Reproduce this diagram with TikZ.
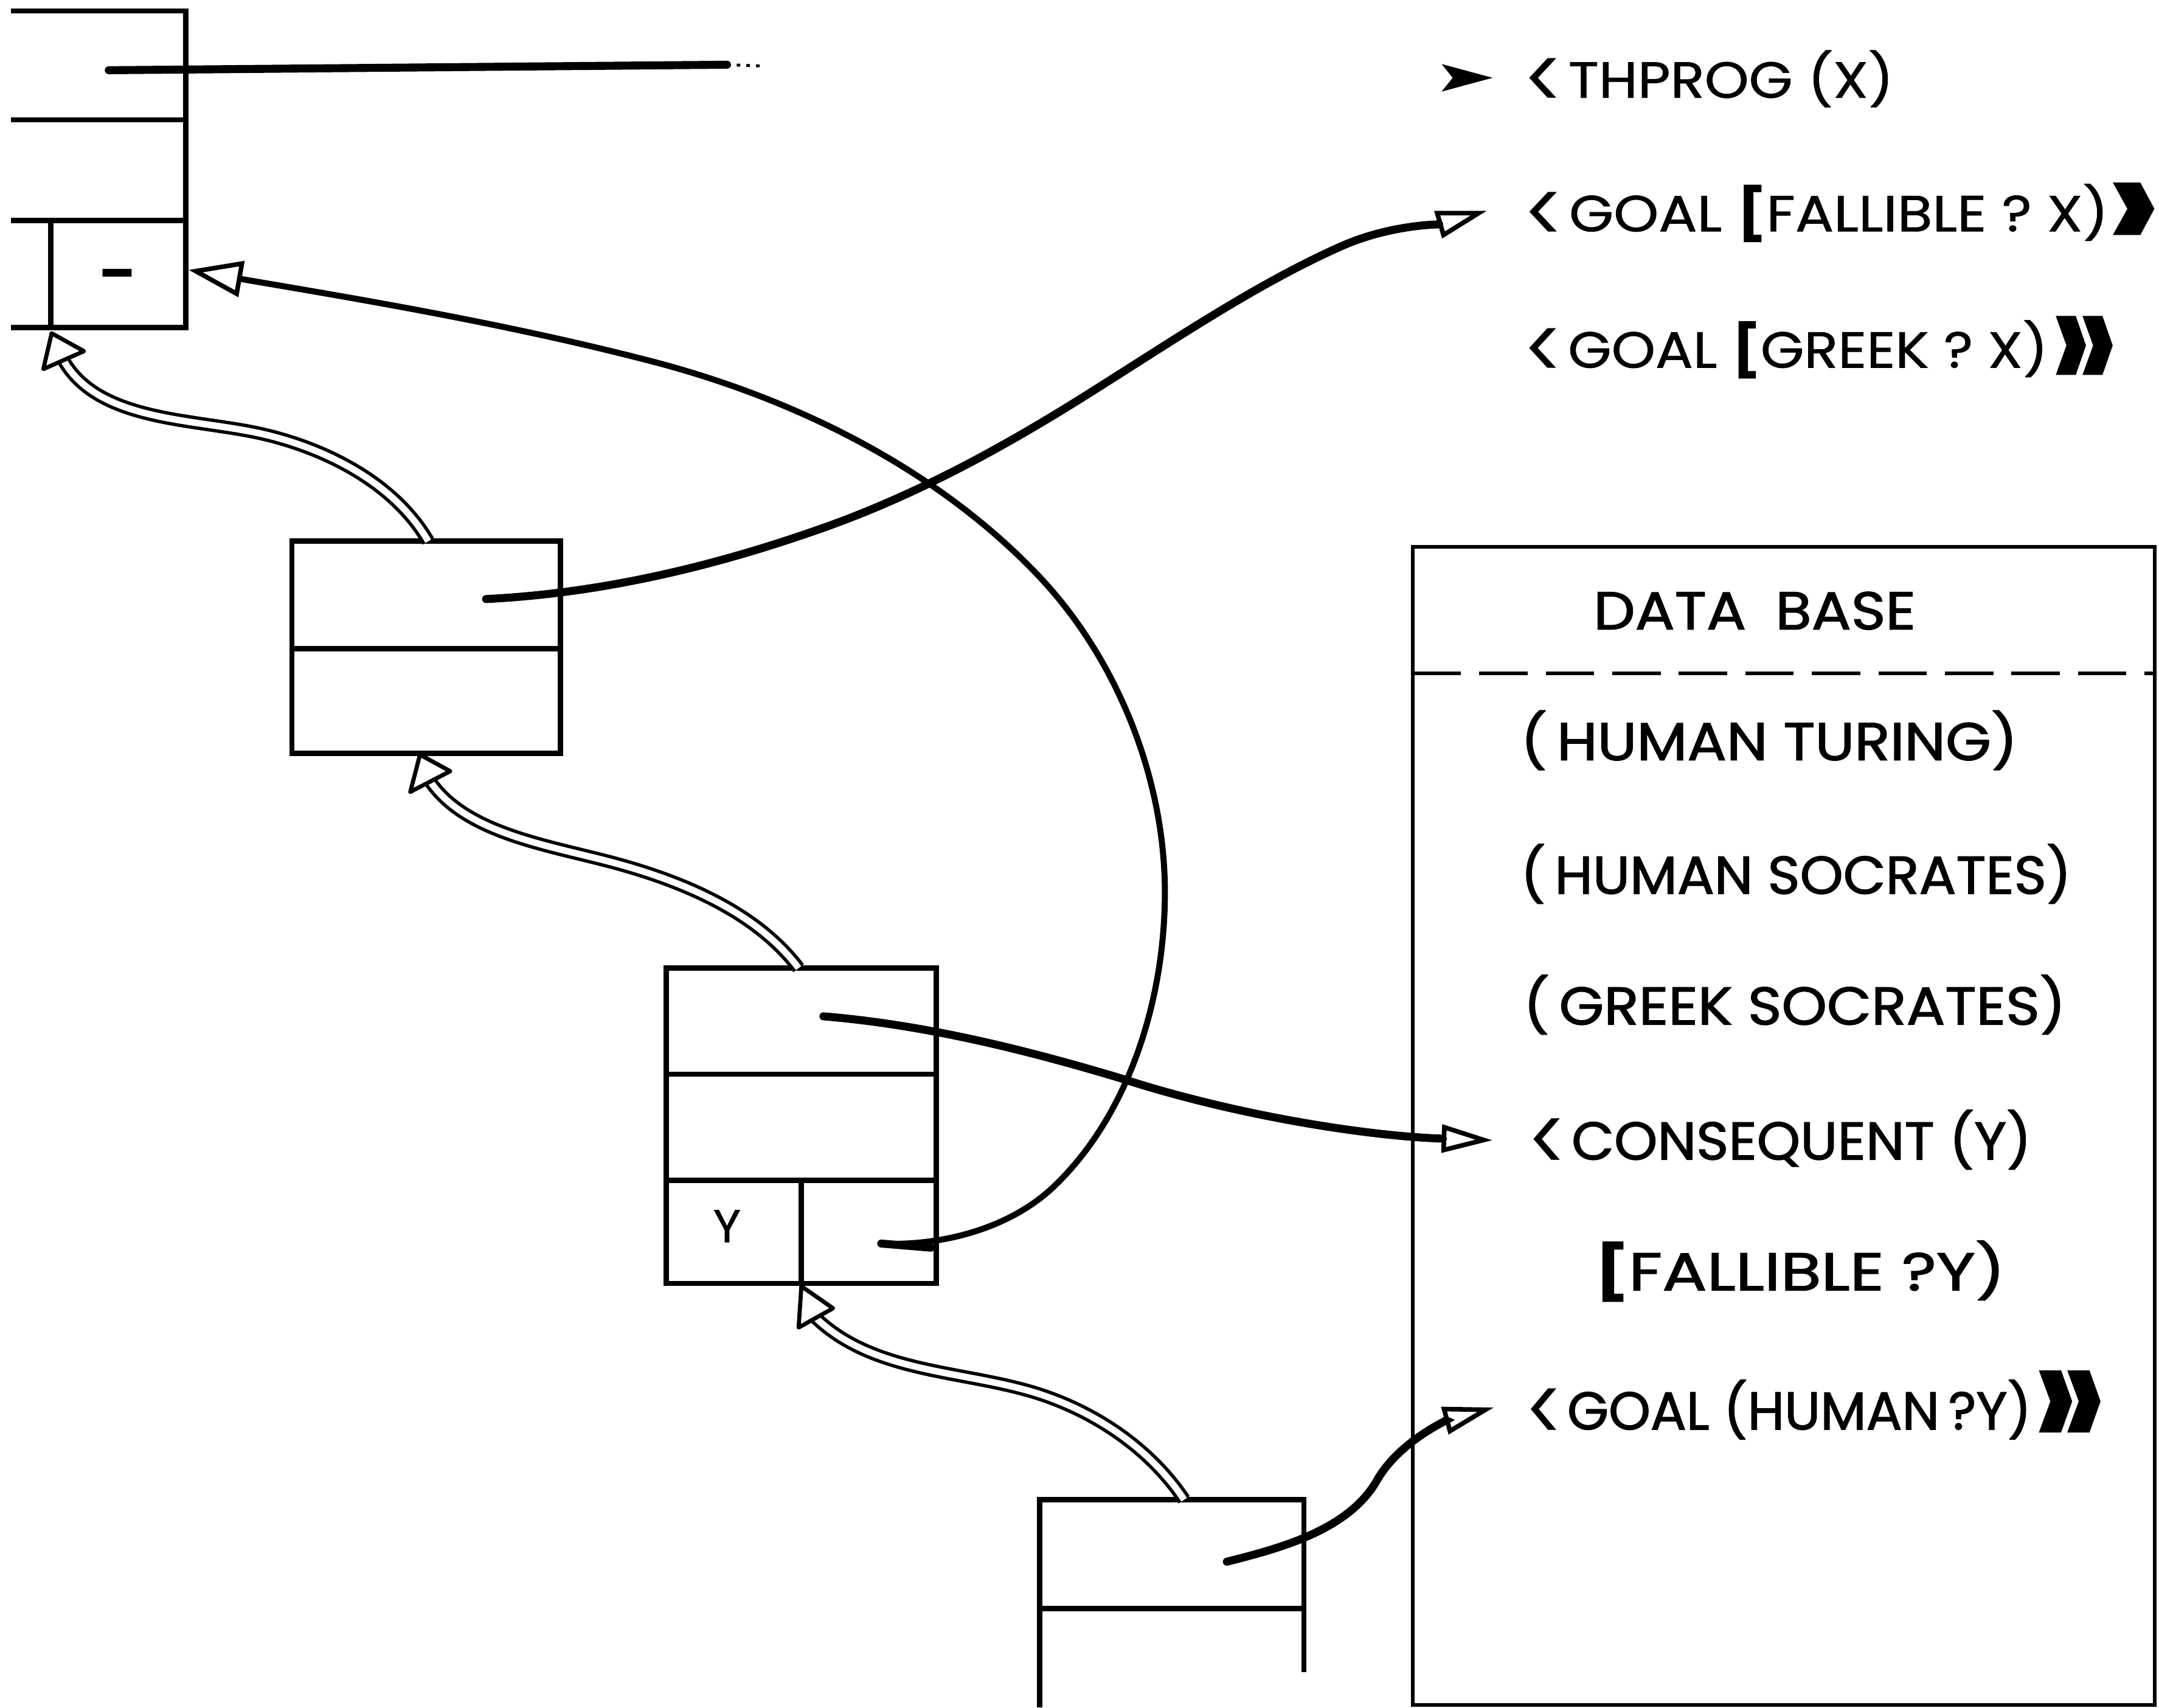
\documentclass[tikz,border=0pt]{standalone}
\usepackage{fontspec}
\usepackage{graphicx}
\setmainfont{Poppins}[FakeBold=0.9]
\newfontfamily\dbfont{Poppins}[FakeBold=1.6]
\newfontfamily\thinfont{Poppins}
\usetikzlibrary{arrows.meta}

% one drawing unit
\newlength{\pxu}
\setlength{\pxu}{0.02cm}
% stretch a label to a given width, keeping its height
\newcommand{\fitw}[2]{\resizebox{#1\pxu}{\height}{#2}}
% heavy closing chevrons: width, height, raise, glyph
\newcommand{\chev}[4]{\raisebox{#3\pxu}{\resizebox{#1\pxu}{#2\pxu}{\bfseries #4}}}
% a light less-than sign as tall as the capitals
\newcommand{\angl}{\raisebox{-0.24em}{\scalebox{1.35}[1.7]{\thinfont <}}\hspace{0.05em}}

\begin{document}
\begin{tikzpicture}[x=0.02cm, y=-0.02cm,
  cell/.style={line width=2.2pt, line join=miter},
  dbframe/.style={line width=1.6pt},
  ptr/.style={line width=3.3pt, line cap=round},
  arcline/.style={line width=2.5pt, line cap=round},
  headtip/.style={-{Triangle[open, length=0.74cm, width=0.4cm, line width=1.9pt]}},
  bighead/.style={-{Triangle[open, length=0.78cm, width=0.52cm, line width=1.9pt]}},
  chain/.style={double, double distance=2.7pt, line width=1.4pt},
  chainhead/.style={draw, line width=1.7pt, fill=white, line join=round},
  lbl/.style={inner sep=0pt, anchor=base west, font=\fontsize{21pt}{25pt}\selectfont},
  dblbl/.style={inner sep=0pt, anchor=base west, font=\dbfont\fontsize{22pt}{26pt}\selectfont},
]
\fill[white] (0,0) rectangle (1568,1240);
\useasboundingbox (0,0) rectangle (1568,1240);

% ---- frame cut by the left edge ----
\draw[cell] (8,8) -- (135,8) -- (135,238) -- (8,238);
\draw[cell] (8,87) -- (135,87);
\draw[cell] (8,160) -- (135,160);
\draw[cell] (37,160) -- (37,238);
\node[lbl, anchor=base] (nilA) at (85,211) {\fitw{26}{\bfseries –}};

% ---- frame B ----
\draw[cell] (212,393) rectangle (407,547);
\draw[cell] (212,471) -- (407,471);

% ---- frame C ----
\draw[cell] (484,703) rectangle (680,932);
\draw[cell] (484,780) -- (680,780);
\draw[cell] (484,857) -- (680,857);
\draw[cell] (582,857) -- (582,932);
\node[lbl, anchor=base, font=\fontsize{19pt}{23pt}\selectfont] (cellY) at (528,902) {\fitw{20}{Y}};

% ---- frame D (runs off the bottom) ----
\draw[cell] (755,1240) -- (755,1089) -- (947,1089) -- (947,1214);
\draw[cell] (755,1168) -- (947,1168);

% ---- data base ----
\draw[dbframe] (1026,397) rectangle (1565,1238);
\draw[dbframe, dash pattern=on 20pt off 7.5pt] (1026,489) -- (1565,489);

% ---- program text ----
\node[lbl] (thprog) at (1106,71) {\fitw{269}{\angl THPROG (X)}};
\node[lbl] (goalF) at (1106,168) {\fitw{425}{\angl GOAL \textbf{[}FALLIBLE ? X)}\hspace{-2\pxu}\chev{40}{50}{-15}{›}};
\node[lbl] (goalG) at (1106,267) {\fitw{381}{\angl GOAL \textbf{[}GREEK ? X)}\hspace{2\pxu}\chev{48}{56}{-19}{»}};

\node[dblbl] (dbTitle) at (1157,457) {\fitw{234}{DATA\hspace{0.5em}BASE}};
\node[dblbl] (fact1) at (1104,552) {\fitw{361}{(\,HUMAN TURING)}};
\node[dblbl] (fact2) at (1104,649) {\fitw{400}{(\,HUMAN SOCRATES)}};
\node[dblbl] (fact3) at (1106,744) {\fitw{394}{(\,GREEK SOCRATES)}};
\node[dblbl] (conseq) at (1109,842) {\fitw{366}{\angl CONSEQUENT (Y)}};
\node[dblbl] (conseqBody) at (1158,937) {\fitw{298}{\textbf{[}FALLIBLE ?Y)}};
\node[dblbl] (conseqGoal) at (1107,1038) {\fitw{368}{\angl GOAL (HUMAN\,?Y)}\hspace{2\pxu}\chev{51}{58}{-16}{»}};

% ---- connector end points ----
\coordinate (aPtr) at (79,51);
\coordinate (aPtrEnd) at (528,47);
\coordinate (aTrail) at (556,48);
\coordinate (aSide) at (137,196);
\coordinate (aFoot) at (37.5,242);
\coordinate (aFootBack) at (46,261.5);
\coordinate (bPtr) at (353,435);
\coordinate (bTop) at (311,393);
\coordinate (bFoot) at (305,548);
\coordinate (bFootBack) at (312.5,567.5);
\coordinate (cPtr) at (598,738);
\coordinate (cLink) at (640,903);
\coordinate (cLinkEdge) at (676,906);
\coordinate (cTop) at (580,703);
\coordinate (cFoot) at (582,934);
\coordinate (cFootBack) at (592.5,957);
\coordinate (dPtr) at (891,1134);
\coordinate (dTop) at (860,1089);
\coordinate (thTip) at (1084,56.5);
\coordinate (goalFTip) at (1080,153);
\coordinate (conseqTip) at (1084,828);
\coordinate (humanTip) at (1085,1022);

% ---- pointers ----
\draw[ptr] (aPtr) -- (aPtrEnd);
\draw[line width=1.2pt, dash pattern=on 1.5pt off 2.5pt] (aPtrEnd) -- (aTrail);
\fill[line join=round] (1047,46.5) -- (thTip) -- (1047,66.5) -- (1055,56.5) -- cycle;

\draw[ptr, headtip] (bPtr) .. controls (433,431) and (513,413) .. (593,385)
  .. controls (657,363) and (720,330) .. (784,290)
  .. controls (848,250) and (912,206) .. (976,178)
  .. controls (1011,163) and (1045,163) .. (goalFTip);

\draw[ptr, headtip] (cPtr) .. controls (671,744) and (744,762) .. (814,783)
  .. controls (897,810) and (993,825) .. (conseqTip);

\draw[ptr, headtip] (dPtr) .. controls (931,1124) and (979.5,1110.7) .. (1000,1075)
  .. controls (1016.5,1046) and (1053,1030.6) .. (humanTip);

\draw[ptr] (cLink) -- (cLinkEdge);
\draw[arcline, bighead] (cLink) .. controls (684,905) and (734,892) .. (766,861)
  .. controls (821,808) and (846,724) .. (846,648)
  .. controls (846,566) and (812,480) .. (756,420)
  .. controls (681,340) and (575,288) .. (468,261)
  .. controls (359,233) and (247,215) .. (aSide);

% ---- chain links ----
\draw[chain] (bTop) .. controls (286.5,350.7) and (236.6,325.6) .. (190,315)
  .. controls (140.5,303.8) and (71.5,306.4) .. (aFootBack);
\draw[chainhead] (aFoot) -- (31.5,268) -- (61,255) -- cycle;

\draw[chain] (cTop) .. controls (548,660.6) and (491.4,638.25) .. (440,625)
  .. controls (393.4,613) and (337.4,603.8) .. (bFootBack);
\draw[chainhead] (bFoot) -- (298,575) -- (327,560) -- cycle;

\draw[chain] (dTop) .. controls (836,1053) and (797.9,1026.8) .. (757,1013)
  .. controls (702.9,994.8) and (635.9,998.5) .. (cFootBack);
\draw[chainhead] (cFoot) -- (580,964) -- (605,950) -- cycle;
\end{tikzpicture}
\end{document}
